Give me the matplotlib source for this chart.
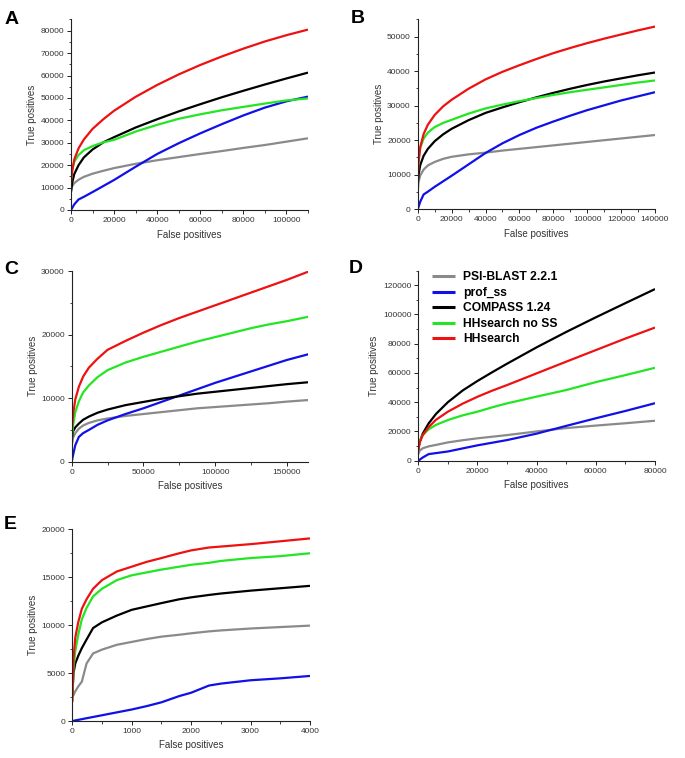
import matplotlib
matplotlib.use('Agg')
import matplotlib.pyplot as plt
from matplotlib.ticker import MultipleLocator, FuncFormatter

plt.rcParams['font.family'] = ['Liberation Sans', 'DejaVu Sans']

methods = ['PSI-BLAST 2.2.1', 'prof_ss', 'COMPASS 1.24', 'HHsearch no SS', 'HHsearch']
colors = ['#8a8a8a', '#1010e8', '#000000', '#22e622', '#ee1111']

# Panel A
fp_A = [0, 500, 1500, 3500, 6000, 10000, 15000, 20000, 30000, 40000, 50000,
        60000, 70000, 80000, 90000, 100000, 110000]
grey_A = [8500, 10500, 12000, 13500, 14800, 16200, 17500, 18700, 20600, 22200, 23600,
          25000, 26300, 27700, 29000, 30500, 32000]
blue_A = [0, 800, 2500, 4700, 5900, 8000, 10700, 13400, 19300, 25000, 29800,
          34200, 38300, 42200, 45700, 48500, 50600]
black_A = [8000, 12000, 16000, 20000, 23500, 27000, 30200, 32500, 36800, 40500, 44000,
           47200, 50300, 53200, 56000, 58700, 61300]
green_A = [14000, 18000, 21500, 24500, 26700, 28500, 30200, 31300, 35000, 38000, 40700,
           42700, 44500, 46000, 47500, 48900, 49800]
red_A = [12000, 17000, 22500, 27500, 31500, 36200, 40500, 44300, 50500, 55800, 60500,
         64700, 68500, 72000, 75200, 78000, 80500]

# Panel B
fp_B = [0, 500, 1500, 3500, 6000, 10000, 15000, 20000, 30000, 40000, 50000, 60000,
        70000, 80000, 90000, 100000, 110000, 120000, 130000, 140000]
grey_B = [5000, 8000, 9800, 11500, 12700, 13700, 14600, 15200, 15900, 16400, 17000, 17500,
          18000, 18500, 19000, 19500, 20000, 20500, 21000, 21500]
blue_B = [0, 700, 2200, 4300, 5100, 6500, 8100, 9700, 13000, 16300, 19100, 21500,
          23600, 25400, 27100, 28700, 30100, 31500, 32700, 33900]
black_B = [7000, 10000, 12800, 15500, 17500, 19700, 21700, 23300, 25800, 27900, 29500, 31000,
           32400, 33700, 34900, 36000, 37000, 37900, 38800, 39600]
green_B = [10000, 14500, 17800, 20500, 22200, 23800, 25000, 25900, 27700, 29200, 30300, 31300,
           32200, 33100, 33900, 34600, 35300, 36000, 36700, 37300]
red_B = [8000, 13500, 18000, 21800, 24500, 27300, 29800, 31700, 34900, 37600, 39800, 41700,
         43500, 45200, 46700, 48100, 49400, 50600, 51800, 52900]

# Panel C
fp_C = [0, 1000, 2500, 5000, 8000, 12000, 18000, 25000, 37500, 50000, 62500, 75000,
        87500, 100000, 112500, 125000, 137500, 150000, 165000]
grey_C = [2500, 3800, 4500, 5200, 5700, 6100, 6500, 6800, 7200, 7500, 7800, 8100,
          8400, 8600, 8800, 9000, 9200, 9450, 9700]
blue_C = [0, 1100, 2600, 3900, 4500, 5000, 5800, 6500, 7500, 8400, 9400, 10400,
          11400, 12400, 13300, 14200, 15100, 16000, 16900]
black_C = [3500, 4800, 5400, 6000, 6600, 7100, 7700, 8200, 8900, 9400, 9900, 10300,
           10700, 11000, 11300, 11600, 11900, 12200, 12500]
green_C = [3500, 5800, 7800, 9500, 10900, 12000, 13300, 14400, 15600, 16500, 17300, 18100,
           18900, 19600, 20300, 21000, 21600, 22100, 22800]
red_C = [4500, 7500, 9800, 11800, 13400, 14800, 16200, 17600, 19000, 20300, 21500, 22600,
         23600, 24600, 25600, 26600, 27600, 28600, 29900]

# Panel D
fp_D = [0, 500, 1500, 3500, 6000, 10000, 15000, 20000, 25000, 30000, 40000, 50000,
        60000, 70000, 80000]
grey_D = [4500, 7000, 8500, 9800, 10800, 12500, 14000, 15300, 16400, 17500, 20000, 22300,
          24000, 25600, 27300]
blue_D = [0, 700, 2200, 4500, 5200, 6300, 8400, 10500, 12300, 14100, 18500, 23800,
          29000, 34000, 39300]
black_D = [8000, 13000, 18500, 25500, 32000, 40000, 48000, 54500, 60500, 66300, 77500, 88000,
           98000, 107700, 117300]
green_D = [8500, 13500, 17500, 21500, 24500, 27800, 31000, 33500, 36500, 39200, 43800, 48300,
           53700, 58500, 63500]
red_D = [7000, 12500, 17500, 23000, 28000, 33500, 39000, 43700, 47900, 51700, 59700, 67700,
         75600, 83500, 91000]

# Panel E
fp_E = [0, 20, 50, 100, 160, 240, 350, 500, 750, 1000, 1250, 1500, 1800, 2000,
        2300, 2500, 3000, 3500, 4000]
grey_E = [2600, 2700, 3100, 3600, 4100, 6000, 7050, 7450, 7950, 8250, 8550, 8800, 9000, 9150,
          9350, 9450, 9650, 9800, 9950]
blue_E = [0, 20, 60, 120, 190, 290, 420, 600, 900, 1200, 1550, 1950, 2600, 2950,
          3700, 3900, 4250, 4450, 4700]
black_E = [2500, 5000, 6000, 6800, 7600, 8500, 9700, 10300, 11000, 11600, 11950, 12300, 12700, 12900,
           13150, 13300, 13600, 13850, 14100]
green_E = [2000, 5500, 7300, 9000, 10600, 11800, 13000, 13800, 14700, 15200, 15500, 15800, 16100, 16300,
           16500, 16700, 17000, 17200, 17500]
red_E = [2000, 6500, 8700, 10300, 11700, 12700, 13800, 14700, 15600, 16100, 16600, 17000, 17500, 17800,
         18100, 18200, 18450, 18750, 19050]

fig = plt.figure(figsize=(6.85, 7.58), dpi=100)

def W(px):
    return px / 685.0

def H(px):
    return px / 758.0

# (letter, x, series, xlim, ylim, xmajor, ymajor, rect in pixels: left, bottom, width, height)
panels = [
    ('A', fp_A, [grey_A, blue_A, black_A, green_A, red_A], 110000, 85000, 20000, 10000,
     (71, 210, 237, 190.5), (5, 24)),
    ('B', fp_B, [grey_B, blue_B, black_B, green_B, red_B], 140000, 55000, 20000, 10000,
     (417.7, 209.3, 237.3, 190), (351, 23)),
    ('C', fp_C, [grey_C, blue_C, black_C, green_C, red_C], 165000, 30000, 50000, 10000,
     (71.7, 461.7, 236.6, 190.7), (4, 274)),
    ('D', fp_D, [grey_D, blue_D, black_D, green_D, red_D], 80000, 130000, 20000, 20000,
     (418.3, 460.7, 236.7, 190.2), (349, 273)),
    ('E', fp_E, [grey_E, blue_E, black_E, green_E, red_E], 4000, 20000, 1000, 5000,
     (72.3, 721, 237.7, 191.7), (4, 529)),
]

for letter, fp, series, xmax, ymax, xmaj, ymaj, rect, lpos in panels:
    left, bottom, width, height = rect
    ax = fig.add_axes([W(left), 1 - H(bottom), W(width), H(height)])
    for ys, c, name in zip(series, colors, methods):
        ax.plot(fp, ys, color=c, lw=1.6, label=name, solid_capstyle='butt')
    ax.set_xlim(0, xmax)
    ax.set_ylim(0, ymax)
    ax.xaxis.set_major_locator(MultipleLocator(xmaj))
    ax.xaxis.set_minor_locator(MultipleLocator(xmaj / 2))
    ax.yaxis.set_major_locator(MultipleLocator(ymaj))
    ax.yaxis.set_minor_locator(MultipleLocator(ymaj / 2))
    fmt = FuncFormatter(lambda v, p: '%d' % v)
    ax.xaxis.set_major_formatter(fmt)
    ax.yaxis.set_major_formatter(fmt)
    for s in ['top', 'right']:
        ax.spines[s].set_visible(False)
    for s in ['left', 'bottom']:
        ax.spines[s].set_linewidth(0.8)
        ax.spines[s].set_color('#222222')
    ax.tick_params(which='major', direction='out', length=3, width=0.7,
                   labelsize=6, pad=2, colors='#222222', labelcolor='#333333')
    ax.tick_params(which='minor', direction='out', length=1.8, width=0.6, colors='#222222')
    ax.set_xlabel('False positives', fontsize=7, color='#333333', labelpad=4)
    ax.set_ylabel('True positives', fontsize=7, color='#333333', labelpad=2.5)
    fig.text(W(lpos[0]), 1 - H(lpos[1]), letter, fontsize=14, fontweight='bold',
             ha='left', va='baseline')
    if letter == 'D':
        leg = ax.legend(loc='upper left', bbox_to_anchor=(0.058, 0.995), frameon=False,
                        prop={'size': 8.7, 'weight': 'bold'}, handlelength=1.9,
                        handletextpad=0.66, labelspacing=0.29, borderpad=0,
                        borderaxespad=0)
        for line in leg.get_lines():
            line.set_linewidth(2.2)

fig.savefig('out.png', dpi=100)
